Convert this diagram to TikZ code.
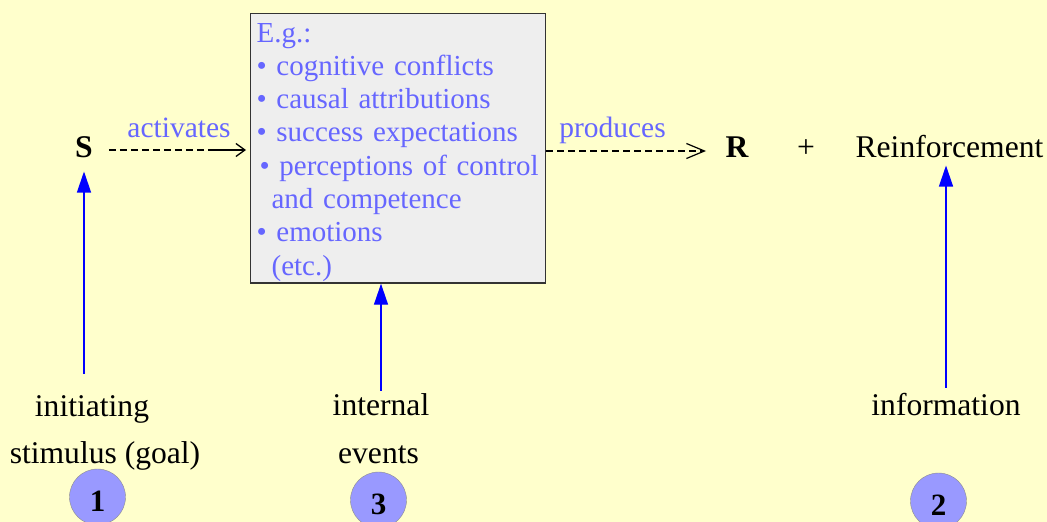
\documentclass[tikz,border=0pt]{standalone}
\usepackage{fontspec}
\setmainfont{Liberation Serif}
\usetikzlibrary{arrows.meta, positioning}
\usepackage{xcolor}
\definecolor{paper}{HTML}{FFFFCC}
\definecolor{note}{HTML}{6666FF}
\definecolor{disc}{HTML}{9999FF}
\definecolor{boxgray}{HTML}{EEEEEE}

\begin{document}
\begin{tikzpicture}[x=1pt, y=-1pt,
  txt/.style={anchor=base, inner sep=0pt, font=\fontsize{31.6}{36}\selectfont},
  lbl/.style={txt, text=note, font=\fontsize{29.5}{33.1}\selectfont},
  sym/.style={txt, font=\fontsize{31.6}{36}\selectfont\bfseries},
  box/.style={draw=black!80, fill=boxgray, line width=1.2pt, anchor=north west, text width=283pt, align=left, inner xsep=6pt, inner ysep=9.5pt, text depth=231.5pt, text=note, font=\fontsize{29}{33.3}\selectfont},
  num/.style={circle, draw=black!45, fill=disc, minimum size=56pt, inner sep=0pt, text height=29pt, text depth=0pt, font=\fontsize{31}{36}\selectfont\bfseries},
  dashline/.style={dash pattern=on 7pt off 4pt, line width=1.8pt},
  feed/.style={draw=blue, line width=1.3pt, -{Triangle[length=21pt,width=14pt]}}
]

\useasboundingbox (0,0) rectangle (1047,522);
\fill[paper] (0,0) rectangle (1047,522);
\clip (0,0) rectangle (1047,522);

\node[sym] (S) at (84,157) {S};
\node[box] (mediators) at (250,13) {E.g.:\\
  • cognitive conflicts\\
  • causal attributions\\
  • success expectations\\
  \hspace*{3pt}• perceptions of control\\
  \hspace*{15pt}and competence\\
  • emotions\\
  \hspace*{15pt}(etc.)};
\node[sym] (R) at (737,157) {R};
\node[txt] (plus) at (806,157) {+};
\node[txt] (reinf) at (949.5,157) {Reinforcement};

\node[lbl] (activates) at (179,137) {activates};
\node[lbl] (produces) at (612.5,137) {produces};

\node[txt] (init) at (92,416) {initiating};
\node[txt] (stim) at (105,463) {stimulus (goal)};
\node[txt] (internal) at (381,415) {internal};
\node[txt] (events) at (378.5,463) {events};
\node[txt] (info) at (946,415) {information};

\node[num] (n1) at (97.5,497) {1};
\node[num] (n3) at (378.5,500) {3};
\node[num] (n2) at (938.5,501) {2};

\coordinate (act end) at (215,150);
\coordinate (prod end) at (708,151);

\draw[dashline, shorten <=16pt] (S.east |- act end) -- (act end);
\draw[line width=1.3pt, shorten >=4pt, -{Straight Barb[length=9pt,width=13pt]}] (act end) -- (act end -| mediators.west);
\draw[dashline, -{Straight Barb[length=18pt,width=15pt,line width=1.2pt,sep=2pt]}] (mediators.east |- prod end) -- (prod end);

\draw[feed, shorten <=21pt, shorten >=14pt] (init.north -| S.south) -- (S.south);
\draw[feed, shorten <=2pt] (internal.north) -- (internal.north |- mediators.south);
\draw[feed, shorten <=5pt, shorten >=8pt] (info.north) -- (info.north |- reinf.south);

\end{tikzpicture}
\end{document}
